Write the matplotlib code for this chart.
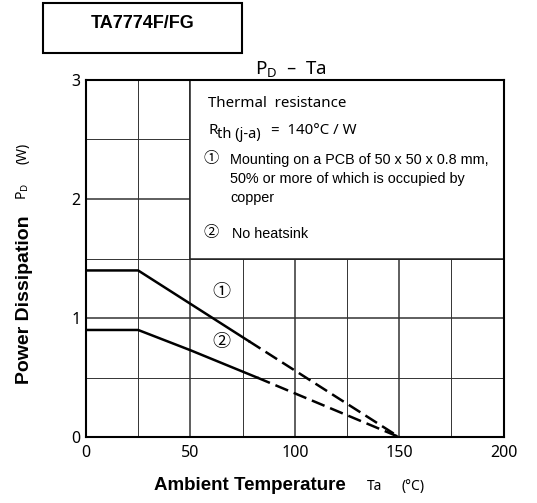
import numpy as np
import matplotlib.pyplot as plt
from matplotlib.patches import Rectangle

# derating curves
ta_1_solid = [0, 25, 78]
pd_1_solid = [1.4, 1.4, 0.806]
ta_1_dash = [78, 150]
pd_1_dash = [0.806, 0.0]

ta_2_solid = [0, 25, 50, 82]
pd_2_solid = [0.9, 0.9, 0.73, 0.5]
ta_2_dash = [82, 150]
pd_2_dash = [0.5, 0.0]

x_ticks = [0, 50, 100, 150, 200]
y_ticks = [0, 1, 2, 3]

note_lines = [
    "Mounting on a PCB of 50 x 50 x 0.8 mm,",
    "50% or more of which is occupied by",
    "copper",
]

ARIAL = ['Liberation Sans', 'DejaVu Sans']
HUMAN = ['Noto Sans', 'DejaVu Sans']
CIRC = ['Noto Sans CJK JP', 'DejaVu Sans']

fig = plt.figure(figsize=(5.37, 5.03), dpi=100)
ax = fig.add_axes([0.160, 0.131, 0.778, 0.710])

# grid
for x in np.arange(25, 200, 25):
    lw = 1.1 if x % 50 == 0 else 0.7
    ax.plot([x, x], [0, 3], color='#333333', lw=lw, zorder=1)
for y in np.arange(0.5, 3, 0.5):
    lw = 1.1 if y % 1 == 0 else 0.7
    ax.plot([0, 200], [y, y], color='#333333', lw=lw, zorder=1)

# blank panel holding the notes
ax.add_patch(Rectangle((50, 1.5), 150, 1.5, facecolor='white',
                       edgecolor='#222222', lw=1.1, zorder=2))

ax.plot(ta_1_solid, pd_1_solid, color='black', lw=1.8, zorder=3)
ax.plot(ta_1_dash, pd_1_dash, color='black', lw=1.8, zorder=3,
        dashes=(5.5, 2.4))
ax.plot(ta_2_solid, pd_2_solid, color='black', lw=1.8, zorder=3)
ax.plot(ta_2_dash, pd_2_dash, color='black', lw=1.8, zorder=3,
        dashes=(5.5, 2.4))

ax.text(65, 1.22, "①", family=CIRC, fontsize=13, ha='center', va='center')
ax.text(65, 0.80, "②", family=CIRC, fontsize=13, ha='center', va='center')

ax.set_xlim(0, 200)
ax.set_ylim(0, 3)
ax.set_xticks(x_ticks)
ax.set_yticks(y_ticks)
ax.tick_params(axis='x', length=0, pad=6, labelsize=11.5)
ax.tick_params(axis='y', length=0, pad=4, labelsize=11.5)
for lab in ax.get_xticklabels() + ax.get_yticklabels():
    lab.set_family(HUMAN)
for s in ax.spines.values():
    s.set_linewidth(1.5)
    s.set_zorder(4)

# notes inside the chart
ax.text(58.5, 2.80, "Thermal  resistance", family=HUMAN, fontsize=10.8, va='center')
ax.text(58.5, 2.575, "R", family=HUMAN, fontsize=10.8, va='center')
ax.text(62.6, 2.545, "th (j-a)", family=HUMAN, fontsize=10.5, va='center')
ax.text(88.5, 2.575, "=  140°C / W", family=HUMAN, fontsize=10.8, va='center')
ax.text(56.5, 2.34, "①", family=CIRC, fontsize=11, va='center')
for i, line in enumerate(note_lines):
    ax.text(69, 2.33 - i * 0.16, line, family=ARIAL, fontsize=10.4, va='center')
ax.text(56.5, 1.715, "②", family=CIRC, fontsize=11, va='center')
ax.text(70, 1.71, "No heatsink", family=ARIAL, fontsize=10.4, va='center')

# title box
fig.patches.append(Rectangle((0.080, 0.895), 0.371, 0.0994, transform=fig.transFigure,
                             facecolor='white', edgecolor='black', lw=1.5))
fig.text(0.265, 0.954, "TA7774F/FG", family=ARIAL, fontsize=13,
         fontweight='bold', ha='center', va='center')

fig.text(0.542, 0.862, r"$\mathregular{P_D}$  –  Ta", family=HUMAN, fontsize=13.5,
         ha='center', va='center')

fig.text(0.465, 0.035, "Ambient Temperature", family=ARIAL, fontsize=13.5,
         fontweight='bold', ha='center', va='center')
fig.text(0.683, 0.032, "Ta", family=HUMAN, fontsize=10, ha='left', va='center')
fig.text(0.748, 0.032, "(°C)", family=HUMAN, fontsize=10, ha='left', va='center')

fig.text(0.045, 0.405, "Power Dissipation", family=ARIAL, fontsize=14,
         fontweight='bold', rotation=90, ha='center', va='center')
fig.text(0.043, 0.620, r"$\mathregular{P_D}$", family=HUMAN, fontsize=10,
         rotation=90, ha='center', va='center')
fig.text(0.043, 0.695, "(W)", family=HUMAN, fontsize=10,
         rotation=90, ha='center', va='center')

fig.savefig('out.png', dpi=100)
